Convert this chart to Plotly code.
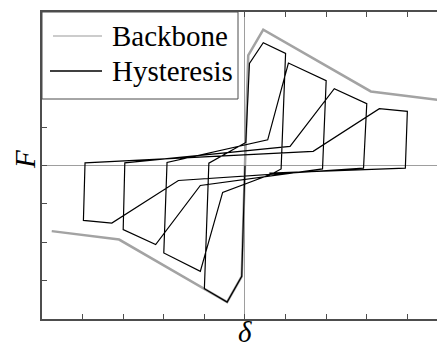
import plotly.graph_objects as go

# Backbone (envelope) curve: displacement vs force
backbone_d = [-4.76, -3.10, -0.44, -0.08, 0.0, 0.08, 0.45, 3.10, 4.76]
backbone_f = [-1.71, -1.93, -3.56, -2.89, 0.0, 2.87, 3.54, 1.93, 1.71]

# Cyclic response with pinching, amplitudes 1..4 (negative half-cycle first)
hyst_d = [0.0, -0.08, -0.44, -1.00, -0.89, 0.02, 0.11, 0.45, 1.00, 0.89,
          0.66, -0.55, -1.10, -2.00, -1.92, 0.56, 1.07, 2.00, 1.91, -1.10,
          -2.20, -3.00, -2.96, 1.11, 2.20, 3.00, 2.92, -1.64, -3.28, -3.98,
          -3.94, 1.68, 3.31, 4.00, 3.95, 0.60]
hyst_f = [0.0, -2.89, -3.56, -3.21, 0.06, 0.60, 2.66, 3.20, 2.92, -0.09,
          -0.22, -0.70, -2.76, -2.28, 0.08, 0.67, 2.67, 2.21, -0.09, -0.52,
          -2.06, -1.67, 0.07, 0.50, 2.00, 1.61, -0.07, -0.39, -1.50, -1.43,
          0.07, 0.37, 1.48, 1.41, -0.07, -0.20]

legend_labels = ["Backbone", "Hysteresis"]

SERIF = "Times New Roman, Liberation Serif, DejaVu Serif, serif"
AXIS_COLOR = "#4d4d4d"
GRAY = "#a3a3a3"

fig = go.Figure()
fig.add_trace(go.Scatter(x=backbone_d, y=backbone_f, mode="lines",
                         name=legend_labels[0],
                         line=dict(color=GRAY, width=2.5),
                         showlegend=False, hoverinfo="skip"))
fig.add_trace(go.Scatter(x=hyst_d, y=hyst_f, mode="lines",
                         name=legend_labels[1],
                         line=dict(color="black", width=1.2),
                         showlegend=False, hoverinfo="skip"))

axis_common = dict(
    showticklabels=False, ticks="inside", ticklen=5, tickwidth=1,
    tickcolor=AXIS_COLOR, dtick=1, tick0=0, showgrid=False,
    showline=True, linecolor=AXIS_COLOR, linewidth=1.5,
    zeroline=True, zerolinecolor="#9e9e9e", zerolinewidth=1,
)
fig.update_xaxes(range=[-5, 4.73], mirror="ticks", **axis_common)
fig.update_yaxes(range=[-4, 4], mirror=False, **axis_common)

# Legend frame and samples drawn in paper space
W_PLOT, H_PLOT, L, T = 395.0, 307.0, 42.0, 12.0


def px(x):
    return (x - L) / W_PLOT


def py(y):
    return (T + H_PLOT - y) / H_PLOT


shapes = [
    dict(type="rect", xref="paper", yref="paper", x0=px(42), x1=px(238),
         y0=py(99), y1=py(12), line=dict(color=AXIS_COLOR, width=1),
         fillcolor="white", layer="above"),
    dict(type="line", xref="paper", yref="paper", x0=px(53), x1=px(102),
         y0=py(36), y1=py(36), line=dict(color="#999999", width=1.2),
         layer="above"),
    dict(type="line", xref="paper", yref="paper", x0=px(50), x1=px(102),
         y0=py(71), y1=py(71), line=dict(color="black", width=1.3),
         layer="above"),
]

text_font = dict(family=SERIF, size=29, color="black")
annotations = [
    dict(text=legend_labels[0], xref="paper", yref="paper", x=px(110),
         y=py(35.5), xanchor="left", yanchor="middle", showarrow=False,
         font=text_font),
    dict(text=legend_labels[1], xref="paper", yref="paper", x=px(110),
         y=py(70.5), xanchor="left", yanchor="middle", showarrow=False,
         font=text_font),
    dict(text="<i>F</i>", xref="paper", yref="paper", x=px(25), y=py(160),
         xanchor="center", yanchor="middle", textangle=-90, showarrow=False,
         font=text_font),
    dict(text="<i>δ</i>", xref="x", yref="paper", x=0, y=py(331.5),
         xanchor="center", yanchor="middle", showarrow=False,
         font=text_font),
]

fig.update_layout(
    width=437, height=349,
    margin=dict(l=42, r=0, t=12, b=30, pad=0),
    paper_bgcolor="white", plot_bgcolor="white",
    font=dict(family=SERIF),
    shapes=shapes, annotations=annotations,
    showlegend=False,
)

fig.write_html("out.html", config={"displayModeBar": False})
